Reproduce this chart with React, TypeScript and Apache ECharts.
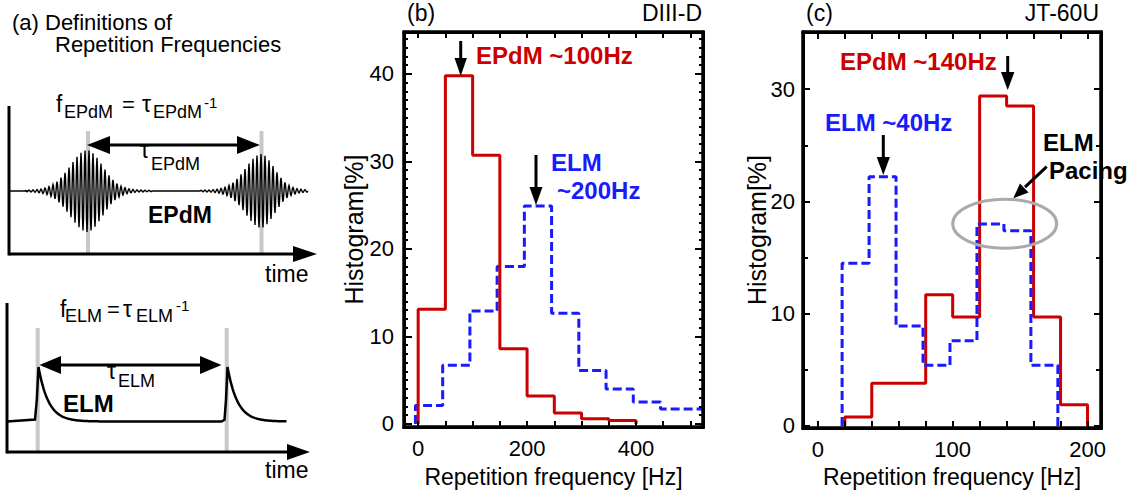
import React, { useEffect, useRef } from "react";
import * as echarts from "echarts";

// ---------------- data ----------------
// (b) DIII-D histograms: bin edges [Hz] and heights [%]
const diiidEPdMEdges = [0, 50, 100, 150, 200, 250, 300, 350, 400];
const diiidEPdMValues = [13.1, 39.8, 30.7, 8.6, 3.2, 1.25, 0.6, 0.4];
const diiidELMEdges = [-5, 45, 95, 145, 195, 245, 295, 345, 395, 445, 523];
const diiidELMValues = [2.1, 6.7, 12.9, 18.0, 24.9, 12.65, 6.1, 4.0, 2.5, 1.7];
// (c) JT-60U histograms
const jtEPdMEdges = [20, 40, 60, 80, 100, 120, 140, 160, 180, 200];
const jtEPdMValues = [0.8, 3.8, 3.8, 11.7, 9.7, 29.4, 28.5, 9.7, 1.9];
const jtELMEdges = [18, 38, 58, 78, 98, 118, 138, 158, 178];
const jtELMValues = [14.5, 22.2, 8.9, 5.4, 7.6, 18.0, 17.4, 5.4];

// axis ranges, tick labels and tick positions
const diiidXRange = [-26, 523];
const diiidYRange = [-0.35, 44.8];
const diiidXLabels = [0, 200, 400];
const diiidXTicks = [0, 50, 100, 150, 200, 250, 300, 350, 400, 450, 500];
const diiidYLabels = [0, 10, 20, 30, 40];
const diiidYMinorTicks = Array.from({ length: 45 }, (_, i) => i);
const jtXRange = [-11, 210];
const jtYRange = [-0.18, 35.1];
const jtXLabels = [0, 100, 200];
const jtXTicks = [0, 20, 40, 60, 80, 100, 120, 140, 160, 180, 200];
const jtYLabels = [0, 10, 20, 30];
const jtYMinorTicks = [0, 5, 10, 15, 20, 25, 30, 35];

const FONT = '"Liberation Sans", Arial, Helvetica, sans-serif';
const RED = "#cc0000";
const BLUE = "#1a1aff";

const GRIDS = [
  { left: 404, top: 32, width: 299, height: 395, show: true, borderColor: "#000", borderWidth: 3, backgroundColor: "transparent" },
  { left: 803, top: 32, width: 298, height: 396, show: true, borderColor: "#000", borderWidth: 3, backgroundColor: "transparent" },
];

function stepData(edges: number[], values: number[], closeEnd: boolean) {
  const pts: number[][] = [[edges[0], 0]];
  values.forEach((v, i) => pts.push([edges[i], v]));
  pts.push([edges[edges.length - 1], values[values.length - 1]]);
  if (closeEnd) pts.push([edges[edges.length - 1], 0]);
  return pts;
}

function mkAxisLine() {
  return { show: true, onZero: false, lineStyle: { color: "#000", width: 3 } };
}

function xAxes(gridIndex: number, range: number[], ticks: number[], labels: number[], tickLen: number, showLabels: boolean) {
  const tickStyle = { color: "#000", width: 2 };
  return [
    {
      type: "value", gridIndex, min: range[0], max: range[1], position: "bottom",
      axisLine: mkAxisLine(),
      axisTick: { show: true, inside: true, length: tickLen, customValues: ticks, lineStyle: tickStyle },
      axisLabel: { show: showLabels, customValues: labels, margin: 10, fontSize: 22, color: "#000", fontFamily: FONT },
      splitLine: { show: false },
    },
    {
      type: "value", gridIndex, min: range[0], max: range[1], position: "top",
      axisLine: mkAxisLine(),
      axisTick: { show: true, inside: true, length: tickLen, customValues: ticks, lineStyle: tickStyle },
      axisLabel: { show: false },
      splitLine: { show: false },
    },
  ];
}

function yAxes(gridIndex: number, range: number[], majors: number[], minors: number[], majLen: number, minLen: number, labelMargin: number, showLabels: boolean) {
  const common = { type: "value", gridIndex, min: range[0], max: range[1], splitLine: { show: false } };
  const tickStyle = { color: "#000", width: 2 };
  return [
    {
      ...common, position: "left", axisLine: mkAxisLine(),
      axisTick: { show: true, inside: true, length: majLen, customValues: majors, lineStyle: tickStyle },
      axisLabel: { show: showLabels, customValues: majors, margin: labelMargin, fontSize: 22, color: "#000", fontFamily: FONT },
    },
    {
      ...common, position: "left", axisLine: { show: false, onZero: false },
      axisTick: { show: true, inside: true, length: minLen, customValues: minors, lineStyle: tickStyle },
      axisLabel: { show: false },
    },
    {
      ...common, position: "right", axisLine: mkAxisLine(),
      axisTick: { show: true, inside: true, length: majLen, customValues: majors, lineStyle: tickStyle },
      axisLabel: { show: false },
    },
    {
      ...common, position: "right", axisLine: { show: false, onZero: false },
      axisTick: { show: true, inside: true, length: minLen, customValues: minors, lineStyle: tickStyle },
      axisLabel: { show: false },
    },
  ];
}

function allXAxes(showLabels: boolean) {
  return [
    ...xAxes(0, diiidXRange, diiidXTicks, diiidXLabels, 6, showLabels),
    ...xAxes(1, jtXRange, jtXTicks, jtXLabels, 7, showLabels),
  ];
}
function allYAxes(showLabels: boolean) {
  return [
    ...yAxes(0, diiidYRange, diiidYLabels, diiidYMinorTicks, 8, 4, 10, showLabels),
    ...yAxes(1, jtYRange, jtYLabels, jtYMinorTicks, 7, 5, 8, showLabels),
  ];
}

// ---------------- schematic panel (a) helpers ----------------
function epdmWave() {
  const pts: number[][] = [];
  for (let x = 25; x <= 308; x += 0.5) {
    let env = 0;
    const d1 = x - 87;
    if (x < 152) env += 37 * Math.exp(-Math.pow(d1 / (d1 < 0 ? 24 : 22), 2)) + 4 * Math.exp(-Math.abs(d1) / 35);
    const d2 = x - 261;
    if (x > 200) env += 33 * Math.exp(-Math.pow(d2 / (d2 < 0 ? 22 : 19), 2)) + 4 * Math.exp(-Math.abs(d2) / 35);
    pts.push([x, 191 - env * Math.sin((2 * Math.PI * x) / 4)]);
  }
  return pts;
}

function elmWave() {
  const pts: number[][] = [[7, 421.5], [35, 419.5], [36.8, 400], [38.5, 367]];
  for (let x = 39.5; x <= 222; x += 1) pts.push([x, 421.5 - 54.5 * Math.exp(-(x - 38.5) / 10)]);
  pts.push([224.5, 419.8], [226, 400], [227.5, 367]);
  for (let x = 228.5; x <= 287; x += 1) pts.push([x, 421.5 - 54.5 * Math.exp(-(x - 227.5) / 10)]);
  return pts;
}

function txt(text: string, x: number, y: number, size: number, opts: any = {}) {
  return {
    type: "text", x, y, z: 110, rotation: opts.rotation || 0,
    style: {
      text, fontSize: size, fontFamily: FONT, fontWeight: opts.bold ? "bold" : "normal",
      fill: opts.color || "#000",
      textAlign: opts.align || "left", textVerticalAlign: "middle",
      align: opts.align || "left", verticalAlign: "middle",
    },
  };
}
function seg(x1: number, y1: number, x2: number, y2: number, w = 3, color = "#000", z = 105) {
  return { type: "line", z, shape: { x1, y1, x2, y2 }, style: { stroke: color, lineWidth: w } };
}
function tri(points: number[][], z = 105) {
  return { type: "polygon", z, shape: { points }, style: { fill: "#000" } };
}

export default function App() {
  const ref = useRef<HTMLDivElement>(null);
  const frameRef = useRef<HTMLDivElement>(null);
  useEffect(() => {
    if (!ref.current || !frameRef.current) return;
    const chart = echarts.init(ref.current, undefined, { renderer: "svg" });

    const graphic: any[] = [
      // ---- (a) title
      txt("(a) Definitions of", 12, 22, 22),
      txt("Repetition Frequencies", 55, 44, 22),
      // ---- (a) top: EPdM
      seg(88, 131, 88, 253, 4, "#c8c8c8", 100),
      seg(261.5, 131, 261.5, 253, 4, "#c8c8c8", 100),
      seg(9, 106, 9, 255.5),
      seg(9, 254, 297, 254),
      tri([[317, 254], [293, 246], [293, 262]]),
      { type: "polyline", z: 104, shape: { points: epdmWave() }, style: { stroke: "#000", lineWidth: 1.4, fill: null } },
      seg(9, 191, 28, 191, 1.5),
      seg(106, 145, 242, 145),
      tri([[87, 145], [110, 136], [110, 154]]),
      tri([[260, 145], [237, 136], [237, 154]]),
      txt("f", 56, 104, 23),
      txt("EPdM", 64, 112, 18),
      txt("=", 122, 104, 22),
      txt("τ", 142, 104, 23),
      txt("EPdM", 153, 112, 18),
      txt("-1", 204, 102, 15),
      txt("τ", 140, 150, 23),
      txt("EPdM", 151, 164, 18),
      txt("EPdM", 148, 215, 23, { bold: true }),
      txt("time", 265, 274, 23),
      // ---- (a) bottom: ELM
      seg(37.7, 328, 37.7, 451, 4, "#c8c8c8", 100),
      seg(226.7, 328, 226.7, 451, 4, "#c8c8c8", 100),
      seg(7, 303, 7, 453.5),
      seg(7, 452, 291, 452),
      tri([[310, 452], [287, 444], [287, 460]]),
      { type: "polyline", z: 104, shape: { points: elmWave() }, style: { stroke: "#000", lineWidth: 2.5, fill: null } },
      seg(56, 365, 205, 365),
      tri([[39.5, 365], [61, 356], [61, 374]]),
      tri([[221.5, 365], [200, 356], [200, 374]]),
      txt("f", 60, 309, 23),
      txt("ELM", 65, 316, 18),
      txt("=", 107, 309, 22),
      txt("τ", 123, 309, 23),
      txt("ELM", 136, 316, 18),
      txt("-1", 176, 305, 15),
      txt("τ", 107, 371, 23),
      txt("ELM", 118, 381, 18),
      txt("ELM", 63, 403, 24, { bold: true }),
      txt("time", 265, 470, 23),
      // ---- axis titles
      txt("Repetition frequency [Hz]", 553.5, 477, 23, { align: "center" }),
      txt("Repetition frequency [Hz]", 952, 477, 23, { align: "center" }),
      txt("Histogram[%]", 354, 229.5, 25, { align: "center", rotation: Math.PI / 2 }),
      txt("Histogram[%]", 757, 230, 25, { align: "center", rotation: Math.PI / 2 }),
      // ---- (b) labels and annotations
      txt("(b)", 407, 13, 23),
      txt("DIII-D", 702, 13, 23, { align: "right" }),
      txt("EPdM ~100Hz", 476, 55, 24, { bold: true, color: RED }),
      seg(460.7, 41, 460.7, 62),
      tri([[460.7, 76], [454.5, 58], [466.9, 58]]),
      txt("ELM", 551, 162, 24, { bold: true, color: BLUE }),
      txt("~200Hz", 557, 190, 24, { bold: true, color: BLUE }),
      seg(536, 155, 536, 191),
      tri([[536, 205], [529.5, 187], [542.5, 187]]),
      // ---- (c) labels and annotations
      txt("(c)", 806, 13, 23),
      txt("JT-60U", 1099, 13, 23, { align: "right" }),
      txt("EPdM ~140Hz", 840, 61, 24, { bold: true, color: RED }),
      seg(1007.7, 56, 1007.7, 75),
      tri([[1007.7, 90], [1001, 72], [1014.4, 72]]),
      txt("ELM ~40Hz", 825, 122, 24, { bold: true, color: BLUE }),
      seg(883.3, 135, 883.3, 160),
      tri([[883.3, 175], [876.7, 157], [889.9, 157]]),
      txt("ELM", 1043, 142, 24, { bold: true }),
      txt("Pacing", 1049, 170, 24, { bold: true }),
      seg(1046.7, 166.7, 1025, 187.2),
      tri([[1013.3, 198.3], [1028.6, 192.6], [1019.9, 183.4]]),
      { type: "ellipse", z: 103, shape: { cx: 1004.7, cy: 223.8, rx: 52, ry: 24.5 }, style: { stroke: "#aaaaaa", lineWidth: 3, fill: null } },
    ];

    const lineSeries = (data: number[][], xi: number, yi: number, color: string, dashed: boolean) => ({
      type: "line", xAxisIndex: xi, yAxisIndex: yi, data, step: "end", symbol: "none", clip: false,
      lineStyle: { color, width: 3, type: dashed ? [9, 4] : "solid" },
    });

    chart.setOption({
      animation: false,
      backgroundColor: "#fff",
      grid: GRIDS,
      xAxis: allXAxes(true),
      yAxis: allYAxes(true),
      series: [
        lineSeries(stepData(diiidELMEdges, diiidELMValues, false), 0, 0, BLUE, true),
        lineSeries(stepData(diiidEPdMEdges, diiidEPdMValues, true), 0, 0, RED, false),
        lineSeries(stepData(jtEPdMEdges, jtEPdMValues, true), 2, 4, RED, false),
        lineSeries(stepData(jtELMEdges, jtELMValues, true), 2, 4, BLUE, true),
      ],
      graphic,
    });

    // overlay instance: only the plot frames and inward ticks (no series, no labels)
    const frame = echarts.init(frameRef.current, undefined, { renderer: "svg" });
    frame.setOption({
      animation: false,
      backgroundColor: "rgba(0,0,0,0)",
      grid: GRIDS,
      xAxis: allXAxes(false),
      yAxis: allYAxes(false),
      series: [],
    });

    return () => {
      chart.dispose();
      frame.dispose();
    };
  }, []);
  return (
    <div style={{ position: "absolute", left: 0, top: 0, width: 1136, height: 493, background: "#fff" }}>
      <div ref={ref} style={{ position: "absolute", left: 0, top: 0, width: 1136, height: 493 }} />
      <div ref={frameRef} style={{ position: "absolute", left: 0, top: 0, width: 1136, height: 493, pointerEvents: "none" }} />
    </div>
  );
}
